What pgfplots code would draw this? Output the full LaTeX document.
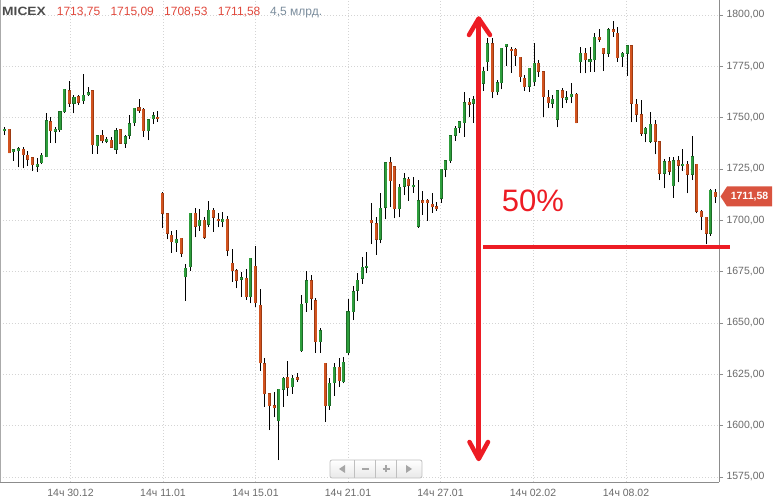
\documentclass[border=0pt]{standalone}
\usepackage{pgfplots}
\pgfplotsset{compat=1.18}
\usepackage{pgfplotstable}
\usepackage{fontspec}
\setmainfont{Liberation Sans}
\definecolor{gfill}{HTML}{2E9E3C}
\definecolor{gedge}{HTML}{1C6B26}
\definecolor{rfill}{HTML}{D2531F}
\definecolor{redge}{HTML}{9C3A12}
\definecolor{gridc}{HTML}{D4D4D4}
\definecolor{axc}{HTML}{8C8C8C}
\definecolor{labc}{HTML}{6A6A6A}
\definecolor{annot}{HTML}{ED1C24}
\definecolor{hdrred}{HTML}{E0483C}
\definecolor{hdrgray}{HTML}{7A8C9C}
\definecolor{tagred}{HTML}{D9533F}

\pgfplotstableread{
x o h l c
4.3 1743.7 1745.6 1741.5 1744.3
13.3 1733.3 1734.6 1729.0 1734.3
18.3 1733.9 1735.5 1725.8 1734.9
37.3 1726.4 1730.2 1723.7 1727.4
41.7 1728.1 1732.6 1727.4 1731.8
46.7 1731.0 1752.4 1730.7 1748.4
55.3 1743.5 1745.6 1737.5 1744.3
60.0 1744.0 1753.4 1743.2 1752.9
64.3 1752.9 1764.1 1752.4 1763.8
74.0 1757.0 1761.0 1752.1 1759.9
83.3 1758.3 1771.3 1756.6 1761.0
88.3 1761.2 1764.8 1760.7 1762.0
97.3 1736.4 1741.5 1732.3 1741.2
106.7 1738.5 1740.4 1737.5 1739.4
116.0 1734.6 1744.8 1732.3 1743.5
125.3 1737.5 1741.5 1735.4 1740.6
129.3 1741.4 1751.3 1739.7 1746.9
134.3 1747.5 1754.5 1746.1 1754.5
148.3 1743.7 1748.9 1739.1 1748.9
153.3 1749.5 1752.9 1746.9 1750.8
176.3 1689.1 1695.3 1684.7 1690.7
185.3 1672.5 1678.7 1660.8 1676.6
190.3 1677.4 1703.7 1675.5 1703.4
199.3 1697.4 1705.3 1694.9 1700.1
208.7 1698.0 1709.6 1696.6 1705.0
222.7 1699.3 1704.2 1696.6 1700.6
241.3 1671.2 1675.0 1662.8 1672.0
250.3 1662.8 1681.8 1659.5 1681.5
278.7 1602.4 1618.0 1583.2 1617.6
283.3 1617.8 1623.8 1609.2 1623.0
292.3 1618.9 1624.6 1615.4 1623.0
301.3 1636.5 1663.6 1636.0 1659.2
306.7 1659.9 1675.5 1655.5 1670.6
320.3 1640.9 1647.4 1635.5 1646.2
329.3 1609.7 1623.0 1607.6 1620.6
334.3 1620.9 1630.3 1614.6 1628.4
343.3 1621.4 1633.2 1620.6 1630.8
348.0 1635.5 1661.5 1634.4 1655.5
353.3 1655.5 1668.0 1651.4 1665.2
357.3 1666.0 1674.2 1660.8 1670.9
362.3 1671.7 1682.0 1669.0 1677.1
366.7 1677.1 1684.7 1674.2 1677.7
380.3 1690.7 1713.1 1688.8 1705.8
385.7 1706.3 1728.4 1700.5 1728.1
399.3 1705.6 1717.7 1701.4 1716.0
404.3 1716.7 1722.9 1712.3 1720.3
413.3 1716.4 1721.2 1713.4 1717.0
418.3 1697.2 1719.6 1696.4 1709.4
441.3 1710.7 1725.1 1708.6 1724.8
445.3 1724.8 1729.4 1720.9 1729.0
450.3 1729.0 1741.5 1728.1 1741.1
455.3 1741.5 1745.9 1738.8 1744.8
459.3 1745.3 1748.5 1742.7 1748.0
464.3 1747.6 1762.7 1740.7 1757.3
473.3 1757.0 1760.5 1747.6 1758.6
478.3 1758.6 1768.0 1756.0 1766.5
483.3 1766.7 1774.5 1763.1 1772.7
487.3 1777.3 1788.6 1772.9 1785.9
497.3 1762.6 1768.3 1761.0 1767.0
501.3 1767.0 1784.1 1763.8 1783.8
506.3 1784.9 1785.9 1775.2 1785.7
529.3 1765.4 1774.3 1762.6 1774.0
534.3 1767.5 1786.2 1765.4 1776.5
552.3 1757.0 1761.0 1754.5 1758.9
557.3 1749.3 1763.3 1745.3 1763.0
566.3 1758.9 1763.0 1757.0 1759.7
571.3 1760.2 1766.7 1757.0 1761.5
580.3 1777.3 1784.6 1771.6 1781.3
590.0 1777.3 1784.6 1772.4 1778.1
594.3 1778.1 1791.4 1772.4 1789.1
608.3 1781.3 1793.5 1779.7 1792.7
622.3 1779.7 1782.1 1774.8 1781.3
627.3 1781.3 1785.4 1770.4 1785.1
645.3 1742.3 1745.6 1738.0 1744.8
650.3 1738.6 1752.9 1737.5 1746.7
664.3 1722.9 1729.8 1715.6 1728.5
673.3 1716.9 1731.0 1711.0 1728.9
682.7 1726.6 1734.7 1724.0 1727.4
692.3 1722.4 1741.2 1719.6 1731.0
710.3 1693.6 1715.1 1692.5 1714.7
}\greenT

\pgfplotstableread{
x o h l c
9.3 1744.3 1744.6 1732.6 1732.9
23.3 1734.7 1735.5 1725.3 1732.0
27.7 1731.8 1733.9 1726.4 1729.7
32.3 1730.5 1731.0 1724.0 1727.1
50.7 1748.0 1750.5 1737.8 1743.7
69.3 1763.0 1768.0 1755.3 1757.0
78.3 1760.1 1761.0 1756.2 1757.6
92.3 1763.0 1763.0 1732.3 1736.7
102.0 1741.5 1744.0 1737.5 1738.8
111.3 1739.1 1740.7 1735.4 1735.5
120.3 1744.0 1744.5 1737.2 1737.5
139.0 1754.7 1758.9 1752.4 1753.7
143.3 1754.2 1754.5 1740.7 1743.7
157.7 1750.3 1753.4 1748.0 1749.5
162.3 1713.1 1713.9 1696.1 1703.4
167.3 1703.1 1703.4 1690.7 1693.6
171.3 1692.8 1694.9 1684.2 1689.6
181.3 1691.2 1691.5 1682.3 1683.9
195.3 1703.4 1705.8 1691.7 1697.2
204.3 1700.1 1701.4 1690.9 1691.7
213.3 1705.0 1705.8 1694.5 1701.4
218.3 1700.6 1703.7 1696.6 1699.8
227.3 1700.6 1702.1 1682.6 1685.5
232.3 1679.0 1685.9 1670.1 1675.5
236.3 1675.5 1676.1 1666.9 1670.9
246.3 1671.7 1676.1 1661.2 1662.8
255.3 1677.7 1687.5 1657.9 1659.9
260.3 1658.7 1666.4 1626.7 1630.6
264.3 1630.0 1632.7 1609.2 1615.4
269.3 1615.4 1615.7 1597.8 1609.7
274.3 1609.7 1616.5 1604.0 1608.7
287.7 1623.5 1631.6 1614.6 1618.6
297.3 1623.3 1625.4 1621.4 1622.5
311.3 1670.6 1673.3 1656.3 1662.0
315.7 1660.7 1662.0 1635.5 1640.9
325.3 1630.3 1630.6 1601.9 1609.7
339.3 1628.4 1632.7 1618.9 1621.9
371.3 1700.1 1708.3 1688.4 1698.8
376.3 1698.2 1701.8 1683.1 1690.7
390.3 1728.1 1730.7 1706.3 1719.3
394.3 1726.1 1726.4 1700.9 1705.6
408.3 1720.1 1720.9 1709.6 1717.2
422.7 1709.4 1714.3 1702.6 1708.6
427.3 1709.7 1710.2 1699.8 1708.6
432.3 1707.8 1713.1 1703.7 1706.6
436.3 1706.6 1709.1 1704.7 1705.6
469.3 1757.5 1759.4 1750.2 1756.6
492.3 1785.9 1788.6 1759.4 1762.6
511.3 1783.3 1784.6 1771.9 1782.6
515.3 1783.3 1783.8 1775.2 1780.5
520.3 1779.4 1779.7 1767.5 1770.0
524.3 1769.1 1770.8 1763.0 1765.1
538.3 1776.5 1778.1 1770.0 1772.7
543.3 1772.4 1772.7 1750.5 1760.2
548.3 1759.9 1763.5 1754.5 1757.3
562.3 1763.0 1764.3 1754.9 1759.7
576.3 1761.5 1761.8 1747.2 1747.5
585.3 1781.3 1783.8 1771.6 1778.1
599.3 1789.1 1793.2 1787.0 1788.3
603.3 1783.8 1784.1 1772.7 1781.3
613.3 1792.7 1797.1 1789.4 1791.9
617.3 1791.1 1794.3 1777.3 1779.2
631.3 1785.1 1785.4 1747.7 1757.0
636.3 1756.5 1759.1 1748.0 1751.6
641.3 1751.3 1758.6 1741.2 1742.3
655.3 1746.7 1748.8 1732.1 1738.6
659.3 1738.3 1738.6 1719.6 1722.9
669.3 1728.5 1731.0 1722.0 1724.0
678.3 1728.9 1731.5 1718.5 1726.9
687.3 1727.4 1728.9 1713.1 1722.4
696.7 1727.2 1727.6 1703.4 1704.5
701.3 1704.5 1705.0 1695.2 1701.7
706.3 1701.4 1701.7 1688.3 1693.6
715.3 1713.75 1715.09 1708.53 1711.58
}\redT

\pgfplotsset{
  candlebar/.style 2 args={draw=none, mark=none, forget plot,
    error bars/.cd, y dir=plus, y explicit, error mark=none,
    error bar style={draw=#1, line width=#2, line cap=butt}},
}

\begin{document}
\begin{tikzpicture}
\useasboundingbox (0pt,-20pt) rectangle (774pt,482pt);
\begin{axis}[
  at={(0pt,0pt)}, anchor=south west,
  scale only axis, width=719pt, height=482pt,
  xmin=0, xmax=719, ymin=1572.53, ymax=1807.31,
  axis x line*=bottom, axis y line*=right,
  axis line style={draw=axc, line width=0.8pt},
  ytick={1575,1600,...,1800},
  xtick={70.5,163,255.5,348,440.5,533,626},
  xticklabels={14ч 30.12,14ч 11.01,14ч 15.01,14ч 21.01,14ч 27.01,14ч 02.02,14ч 08.02},
  grid=major,
  grid style={draw=gridc, dash pattern=on 1pt off 2pt, line width=0.7pt},
  tick align=outside,
  major tick length=4pt,
  ytick style={draw=axc, line width=0.8pt},
  xtick style={draw=none},
  yticklabel style={font=\fontsize{10.5}{12}\selectfont, text=labc, anchor=west},
  xticklabel style={font=\fontsize{10.5}{12}\selectfont, text=labc},
  /pgf/number format/fixed,
  /pgf/number format/fixed zerofill,
  /pgf/number format/precision=2,
  /pgf/number format/use comma,
  /pgf/number format/1000 sep={},
  /pgf/number format/assume math mode=true,
]
% wicks
\addplot[candlebar={black}{1pt}] table[x=x, y=l, y error expr=\thisrow{h}-\thisrow{l}] {\greenT};
\addplot[candlebar={black}{1pt}] table[x=x, y=l, y error expr=\thisrow{h}-\thisrow{l}] {\redT};
% bodies: edges
\addplot[candlebar={gedge}{3.4pt}] table[x=x, y expr=\thisrow{o}-0.25, y error expr=\thisrow{c}-\thisrow{o}+0.5] {\greenT};
\addplot[candlebar={redge}{3.4pt}] table[x=x, y expr=\thisrow{c}-0.25, y error expr=\thisrow{o}-\thisrow{c}+0.5] {\redT};
% bodies: fills
\addplot[candlebar={gfill}{2.0pt}] table[x=x, y=o, y error expr=\thisrow{c}-\thisrow{o}] {\greenT};
\addplot[candlebar={rfill}{2.0pt}] table[x=x, y=c, y error expr=\thisrow{o}-\thisrow{c}] {\redT};
\end{axis}

\begin{scope}[x=1pt, y=1pt]
% left border
\draw[gridc!80!black, line width=0.8pt] (0.5,0) -- (0.5,482);
% header
\node[anchor=base west, inner sep=0, text=black!70, font=\bfseries\fontsize{12}{14}\selectfont] at (2,466.5) {\scalebox{1.15}[1]{MICEX}};
\node[anchor=base west, inner sep=0, text=hdrred, font=\fontsize{12}{14}\selectfont] at (56.7,466.5) {1713,75};
\node[anchor=base west, inner sep=0, text=hdrred, font=\fontsize{12}{14}\selectfont] at (110.3,466.5) {1715,09};
\node[anchor=base west, inner sep=0, text=hdrred, font=\fontsize{12}{14}\selectfont] at (164,466.5) {1708,53};
\node[anchor=base west, inner sep=0, text=hdrred, font=\fontsize{12}{14}\selectfont] at (217.7,466.5) {1711,58};
\node[anchor=base west, inner sep=0, text=hdrgray, font=\fontsize{12}{14}\selectfont] at (270,466.5) {4,5 млрд.};
% price tag
\fill[tagred] (720.5,285.5) -- (727,295.5) -- (772,295.5) -- (772,275.5) -- (727,275.5) -- cycle;
\node[text=white, inner sep=0, font=\bfseries\fontsize{10.5}{12}\selectfont] at (749.5,285.5) {1711,58};
% navigation widget
\shade[top color=white, bottom color=black!9, draw=black!25, rounded corners=2pt, line width=0.8pt] (330,4) rectangle (422,22);
\draw[black!25, line width=0.8pt] (354.7,4) -- (354.7,22) (375.7,4) -- (375.7,22) (396.3,4) -- (396.3,22);
\fill[black!35] (339,13) -- (345,17) -- (345,9) -- cycle;
\draw[black!35, line width=1.4pt] (362,13) -- (368.5,13);
\draw[black!35, line width=1.4pt] (382.5,13) -- (389.5,13) (386,9.5) -- (386,16.5);
\fill[black!35] (412,13) -- (406,17) -- (406,9) -- cycle;
% annotations
\draw[annot, line width=4.5pt] (478.7,24) -- (478.7,462);
\draw[annot, line width=4.5pt, line cap=round, line join=round] (469,447) -- (478.7,463.5) -- (490,447);
\draw[annot, line width=4.5pt, line cap=round, line join=round] (469.5,40) -- (478.7,23) -- (488,40);
\draw[annot, line width=4.5pt] (483,235) -- (730,235);
\node[anchor=base west, inner sep=0, text=annot, font=\fontsize{31}{31}\selectfont] at (501.7,270.3) {50\%};
\end{scope}
\end{tikzpicture}
\end{document}
